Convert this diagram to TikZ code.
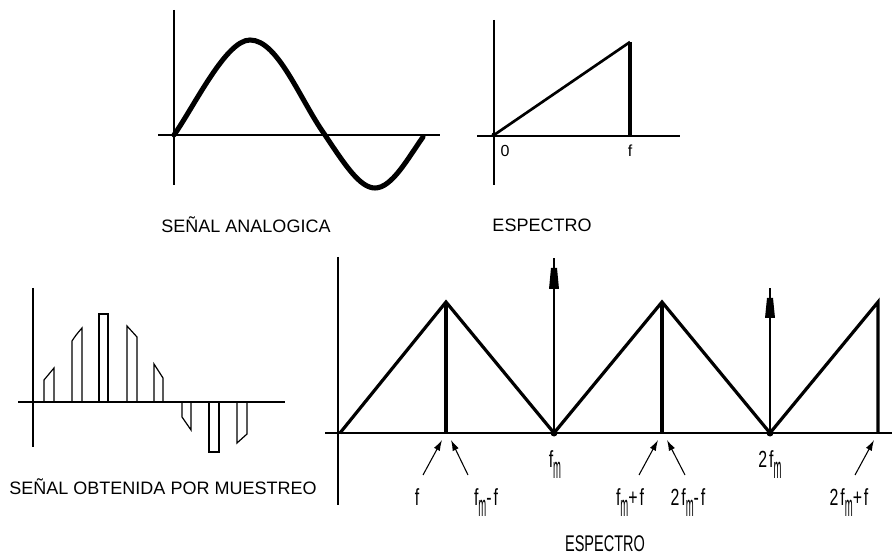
\documentclass[tikz,border=0pt]{standalone}
\usepackage{fontspec}
\usepackage{graphicx}
\setmainfont{Liberation Sans}
\newfontfamily\narrowfont[FakeStretch=0.68,LetterSpace=8]{Liberation Sans}
\newfontfamily\specfont[FakeStretch=0.64]{Liberation Sans}
\usetikzlibrary{arrows.meta}
\newcommand\subm{\raisebox{-8.5pt}{\scalebox{0.6}[1.3]{m}}}
\begin{document}
\begin{tikzpicture}[x=0.75pt,y=-0.75pt,
  axis/.style={line width=1.2pt},
  wave/.style={line width=3.8pt,line cap=round,line join=round},
  spec/.style={line width=2.4pt,line join=miter},
  pulse/.style={line width=0.9pt,line join=miter},
  impulse/.style={line width=1.2pt},
  lab/.style={font=\fontsize{13.5}{16}\selectfont,inner sep=0pt},
  small/.style={font=\fontsize{12}{14}\selectfont,inner sep=0pt},
  flab/.style={font=\narrowfont\fontsize{17.5}{20}\selectfont,inner sep=0pt,anchor=base},
  ptr/.style={line width=0.8pt,-{Latex[length=8pt,width=5pt]}}]
\useasboundingbox (0,0) rectangle (895,559);

% ---------- analog signal ----------
\draw[axis] (174,10) -- (174,185);
\draw[axis] (158,135) -- (440,135);
\draw[wave] (174,135) .. controls (195,105) and (226,40) .. (250,40)
  .. controls (278,40) and (300,100) .. (325,135)
  .. controls (345,165) and (360,188) .. (375,188)
  .. controls (392,188) and (408,158) .. (423,137);
\node[lab] (analog) at (246,225) {SEÑAL ANALOGICA};

% ---------- spectrum of analog signal ----------
\draw[axis] (494,20) -- (494,185);
\draw[axis] (477,136) -- (680,136);
\draw[line width=2pt] (494,135) -- (630,42);
\draw[line width=3pt] (630,42) -- (630,136);
\fill (494,135) circle (2.5);
\node[small] (zero) at (505,151) {0};
\node[small] (ftop) at (630,151) {f};
\node[lab] (spec1) at (542,225) {ESPECTRO};

% ---------- sampled signal ----------
\draw[axis] (33,288) -- (33,447);
\draw[axis] (18,402) -- (285,402);
\draw[pulse] (44,402) -- (44,380) -- (54,368) -- (54,402);
\draw[pulse] (72,402) -- (72,341) .. controls (76,335) .. (82,328) -- (82,402);
\draw[pulse] (99,402) -- (99,314) -- (108,314) -- (108,402);
\draw[pulse] (127,402) -- (127,326) .. controls (132,331) .. (137,337) -- (137,402);
\draw[pulse] (154,402) -- (154,364) -- (163,378) -- (163,402);
\draw[pulse] (182,402) -- (182,417) -- (191,430) -- (191,402);
\draw[pulse] (209,402) -- (209,452) -- (219,452) -- (219,402);
\draw[pulse] (237,402) -- (237,443) -- (247,434) -- (247,402);
\node[lab] (sampled) at (163,487) {SEÑAL OBTENIDA POR MUESTREO};

% ---------- spectrum of sampled signal ----------
\draw[axis] (338,257) -- (338,505);
\draw[line width=2pt] (325,433) -- (892,433);
\draw[spec] (340,433) -- (446,302) -- (554,433) -- (662,302) -- (770,433) -- (878,302) -- (878,433);
\draw[spec] (446,302) -- (446,433);
\draw[spec] (662,302) -- (662,433);
% impulses
\draw[impulse] (554,433) -- (554,258);
\fill (549,289) -- (559,289) -- (557,268) -- (551,268) -- cycle;
\draw[impulse] (770,433) -- (770,288);
\fill (765,318) -- (775,318) -- (773,298) -- (767,298) -- cycle;
\fill (554,433) circle (3.5);
\fill (770,433) circle (3.5);

% labels
\node[flab] (lf) at (417,505) {f};
\node[flab] (lfmmf) at (486,505) {f\subm-f};
\node[flab] (lfm) at (555,467) {f\subm};
\node[flab] (lfmpf) at (630,505) {f\subm+f};
\node[flab] (l2fmmf) at (688,505) {2f\subm-f};
\node[flab] (l2fm) at (770,467) {2f\subm};
\node[flab] (l2fmpf) at (849,505) {2f\subm+f};
\node[font=\specfont\fontsize{17}{19}\selectfont,inner sep=0pt] (spec2) at (605,544) {ESPECTRO};

% pointers
\coordinate (tf) at (423,475);   \coordinate (hf) at (442,440);
\coordinate (tfmmf) at (468,475); \coordinate (hfmmf) at (451,440);
\coordinate (tfmpf) at (639,475); \coordinate (hfmpf) at (658,440);
\coordinate (t2fmmf) at (685,475); \coordinate (h2fmmf) at (667,440);
\coordinate (t2fmpf) at (855,475); \coordinate (h2fmpf) at (874,440);
\draw[ptr] (tf) -- (hf);
\draw[ptr] (tfmmf) -- (hfmmf);
\draw[ptr] (tfmpf) -- (hfmpf);
\draw[ptr] (t2fmmf) -- (h2fmmf);
\draw[ptr] (t2fmpf) -- (h2fmpf);
\end{tikzpicture}
\end{document}
